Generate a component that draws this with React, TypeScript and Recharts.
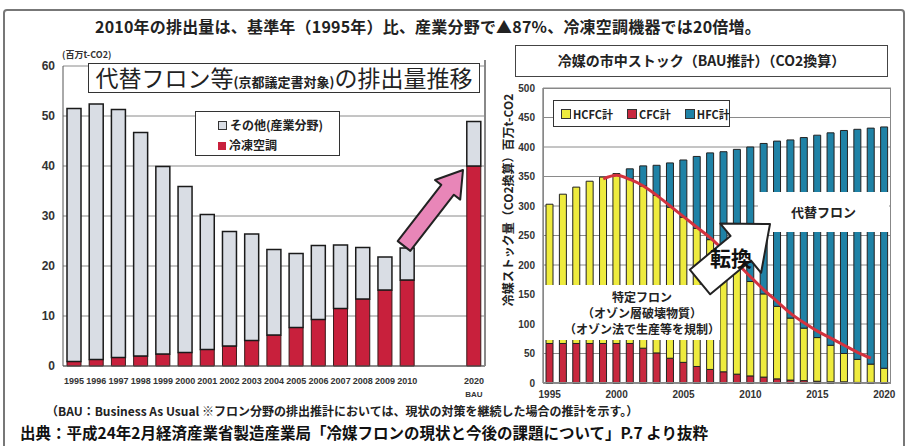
import React from 'react'
import { BarChart, ComposedChart, Bar, Line, XAxis, YAxis, CartesianGrid } from 'recharts'

// 左: 代替フロン等の排出量 (百万t-CO2)
const leftYears = ['1995', '1996', '1997', '1998', '1999', '2000', '2001', '2002', '2003', '2004', '2005', '2006', '2007', '2008', '2009', '2010', '', '', '2020']
const coolingValues = [0.9, 1.3, 1.7, 2.0, 2.4, 2.7, 3.3, 4.0, 5.1, 6.2, 7.7, 9.3, 11.5, 13.4, 15.2, 17.2, null, null, 40.0]
const otherValues = [50.6, 51.1, 49.6, 44.7, 37.5, 33.2, 27.0, 22.9, 21.3, 17.1, 14.8, 14.8, 12.7, 10.3, 6.6, 6.4, null, null, 8.9]
const leftTicks = [0, 10, 20, 30, 40, 50, 60]

// 右: 冷媒の市中ストック (百万t-CO2)
const stockYears = ['1995', '1996', '1997', '1998', '1999', '2000', '2001', '2002', '2003', '2004', '2005', '2006', '2007', '2008', '2009', '2010', '2011', '2012', '2013', '2014', '2015', '2016', '2017', '2018', '2019', '2020']
const cfcValues = [67, 67, 67, 67, 67, 67, 67, 59, 51, 42, 35, 28, 23, 19, 15, 12, 10, 7, 5, 4, 3, 2, 2, 1, 1, 0.5]
const hcfcValues = [236, 253, 265, 275, 282, 288, 279, 275, 267, 256, 246, 234, 220, 201, 181, 160, 141, 123, 105, 89, 74, 62, 48, 39, 31, 24.5]
const hfcValues = [0, 0, 0, 0, 0, 0, 17, 34, 51, 75, 97, 122, 147, 172, 200, 228, 255, 280, 302, 323, 343, 360, 378, 390, 400, 409]
const trendValues = [null, null, null, null, 346, 352, 345, 334, 318, 300, 282, 264, 246, 225, 203, 180, 158, 138, 118, 102, 88, 76, 64, 52, 42, null]
const stockTicks = [0, 50, 100, 150, 200, 250, 300, 350, 400, 450, 500]

const leftData = leftYears.map((y, i) => ({ year: y, cooling: coolingValues[i], other: otherValues[i] }))
const stockData = stockYears.map((y, i) => ({ year: y, cfc: cfcValues[i], hcfc: hcfcValues[i], hfc: hfcValues[i], trend: trendValues[i] }))

const JP = '"Noto Sans CJK JP", sans-serif'
const NARROW = '"Liberation Sans Narrow", "Liberation Sans", sans-serif'

const LeftTick = (props: any) => {
  const { x, y, payload } = props
  if (!payload.value) return null
  return (
    <g>
      <text x={x} y={y + 10} textAnchor="middle" fontSize={9} fontWeight="bold" fontFamily={NARROW} fill="#333">
        {payload.value}
      </text>
      {payload.value === '2020' && (
        <text x={x} y={y + 23} textAnchor="middle" fontSize={8} fontWeight="bold" fontFamily={NARROW} fill="#333">
          BAU
        </text>
      )}
    </g>
  )
}

const box = (extra: React.CSSProperties): React.CSSProperties => ({
  position: 'absolute',
  background: '#fff',
  boxSizing: 'border-box',
  ...extra,
})

export default function App() {
  return (
    <div style={{ position: 'absolute', left: 0, top: 0, width: 909, height: 446, background: '#fff', overflow: 'hidden', fontFamily: JP }}>
      {/* 外枠 */}
      <div style={{ position: 'absolute', left: 3, top: 9, width: 902, height: 460, border: '2px solid #777', borderRadius: 4, boxSizing: 'border-box' }} />

      <div style={{ position: 'absolute', left: 95, top: 14, fontSize: 16, fontWeight: 'bold', letterSpacing: 0.2, color: '#222', whiteSpace: 'nowrap' }}>
        2010年の排出量は、基準年（1995年）比、産業分野で▲87%、冷凍空調機器では20倍増。
      </div>

      {/* 左グラフ */}
      <div style={{ position: 'absolute', left: 0, top: 0 }}>
        <BarChart width={500} height={446} data={leftData} margin={{ top: 66, right: 15, bottom: 50, left: 33 }}>
          <CartesianGrid vertical={false} stroke="#8a8a8a" />
          <XAxis dataKey="year" interval={0} height={30} tick={<LeftTick />} tickLine={false} axisLine={{ stroke: '#555' }} />
          <YAxis
            domain={[0, 60]}
            ticks={leftTicks}
            width={30}
            tickLine={false}
            axisLine={{ stroke: '#555' }}
            tick={{ fontSize: 12, fontWeight: 'bold', fill: '#333', fontFamily: '"Liberation Sans", sans-serif' }}
          />
          <Bar dataKey="cooling" stackId="a" fill="#c8203c" stroke="#3a1a1a" strokeWidth={1} barSize={14} isAnimationActive={false} />
          <Bar dataKey="other" stackId="a" fill="#d9dde4" stroke="#1a1a1a" strokeWidth={1.5} barSize={14} isAnimationActive={false} />
        </BarChart>
      </div>
      <div style={{ position: 'absolute', left: 484, top: 60, width: 1.5, height: 306, background: '#888' }} />
      <div style={{ position: 'absolute', left: 62, top: 48, fontSize: 9, fontWeight: 'bold', color: '#333' }}>(百万t-CO2)</div>

      <div style={box({ left: 88, top: 63, width: 392, height: 30, border: '1.5px solid #333', textAlign: 'center', lineHeight: '27px', whiteSpace: 'nowrap', color: '#222' })}>
        <span style={{ fontSize: 23 }}>代替フロン等</span>
        <span style={{ fontSize: 13, fontWeight: 'bold' }}>(京都議定書対象)</span>
        <span style={{ fontSize: 23 }}>の排出量推移</span>
      </div>

      <div style={box({ left: 195, top: 111, width: 145, height: 45, border: '1.5px solid #333', padding: '3px 0 0 22px', fontSize: 12, fontWeight: 'bold', lineHeight: '20px', color: '#222' })}>
        <div>
          <span style={{ display: 'inline-block', width: 7, height: 7, border: '1px solid #333', background: '#d9dde4', marginRight: 3 }} />
          その他(産業分野)
        </div>
        <div>
          <span style={{ display: 'inline-block', width: 8, height: 8, background: '#c8203c', marginRight: 3 }} />
          冷凍空調
        </div>
      </div>

      {/* 右グラフ */}
      <div style={{ position: 'absolute', left: 500, top: 0 }}>
        <ComposedChart width={409} height={446} data={stockData} margin={{ top: 88, right: 18, bottom: 43, left: 8 }}>
          <CartesianGrid vertical={false} stroke="#8a8a8a" />
          <XAxis
            dataKey="year"
            interval={4}
            height={20}
            tickLine={false}
            axisLine={{ stroke: '#555' }}
            tick={{ fontSize: 10, fontWeight: 'bold', fill: '#333', fontFamily: NARROW }}
          />
          <YAxis
            domain={[0, 500]}
            ticks={stockTicks}
            width={35}
            tickLine={false}
            axisLine={{ stroke: '#555' }}
            tick={{ fontSize: 10, fontWeight: 'bold', fill: '#333', fontFamily: NARROW }}
          />
          <Bar dataKey="cfc" stackId="s" fill="#c8283e" stroke="#222" strokeWidth={1} barSize={7} isAnimationActive={false} />
          <Bar dataKey="hcfc" stackId="s" fill="#eeeb3e" stroke="#222" strokeWidth={1} barSize={7} isAnimationActive={false} />
          <Bar dataKey="hfc" stackId="s" fill="#1f82a6" stroke="#222" strokeWidth={1} barSize={7} isAnimationActive={false} />
          <Line dataKey="trend" type="monotone" stroke="#d3323e" strokeWidth={3} dot={false} connectNulls isAnimationActive={false} />
        </ComposedChart>
      </div>
      <div style={{ position: 'absolute', left: 543, top: 88, width: 348, height: 295, border: '1.5px solid #888', boxSizing: 'border-box' }} />

      <div style={box({ left: 515, top: 45, width: 373, height: 32, border: '1.5px solid #444', textAlign: 'center', lineHeight: '29px', fontSize: 14, fontWeight: 'bold', color: '#222', whiteSpace: 'nowrap' })}>
        冷媒の市中ストック（BAU推計）（CO2換算）
      </div>

      <div style={{ position: 'absolute', left: 507, top: 200, transform: 'translate(-50%, -50%) rotate(-90deg)', whiteSpace: 'nowrap', fontSize: 12, fontWeight: 'bold', color: '#222' }}>
        冷媒ストック量（CO2換算）百万t-CO2
      </div>

      <div style={box({ left: 553, top: 100, width: 177, height: 27, border: '1.5px solid #333', display: 'flex', alignItems: 'center', gap: 14, paddingLeft: 7, fontSize: 11, fontWeight: 'bold', color: '#222' })}>
        {[
          ['#eeeb3e', 'HCFC計'],
          ['#c8283e', 'CFC計'],
          ['#1f82a6', 'HFC計'],
        ].map(([c, t]) => (
          <span key={t} style={{ whiteSpace: 'nowrap' }}>
            <span style={{ display: 'inline-block', width: 8, height: 8, background: c, border: '1px solid #333', marginRight: 2 }} />
            {t}
          </span>
        ))}
      </div>

      <div style={box({ left: 758, top: 192, width: 131, height: 40, textAlign: 'center', lineHeight: '40px', fontSize: 13, fontWeight: 'bold', color: '#222' })}>
        代替フロン
      </div>

      <div style={box({ left: 544, top: 285, width: 176, height: 55, textAlign: 'center', fontSize: 12, fontWeight: 'bold', lineHeight: '16px', paddingTop: 4, paddingLeft: 20, color: '#222' })}>
        <div>特定フロン</div>
        <div>（オゾン層破壊物質）</div>
        <div>（オゾン法で生産等を規制）</div>
      </div>

      {/* 矢印 */}
      <svg width={909} height={446} style={{ position: 'absolute', left: 0, top: 0, pointerEvents: 'none' }}>
        <polygon
          points="397.7,241.1 441.3,184.9 435,180 463,170 460.2,199.6 453.9,194.7 410.3,250.9"
          fill="#e886b8"
          stroke="#222"
          strokeWidth={2}
          strokeLinejoin="round"
        />
        <polygon
          points="689.8,269.7 730.5,235.9 720.3,223.6 770,224 761.1,272.8 750.9,260.5 710.2,294.3"
          fill="#fff"
          stroke="#222"
          strokeWidth={2}
          strokeLinejoin="round"
        />
        <text x={731} y={266} textAnchor="middle" fontSize={21} fontWeight="bold" fontFamily={JP} fill="#111">
          転換
        </text>
      </svg>

      <div style={{ position: 'absolute', left: 46, top: 402, fontSize: 12, fontWeight: 'bold', color: '#222', whiteSpace: 'nowrap' }}>
        （BAU：Business As Usual ※フロン分野の排出推計においては、現状の対策を継続した場合の推計を示す。）
      </div>
      <div style={{ position: 'absolute', left: 20, top: 421, fontSize: 15.5, fontWeight: 'bold', color: '#111', whiteSpace: 'nowrap' }}>
        出典：平成24年2月経済産業省製造産業局「冷媒フロンの現状と今後の課題について」P.7 より抜粋
      </div>
    </div>
  )
}
